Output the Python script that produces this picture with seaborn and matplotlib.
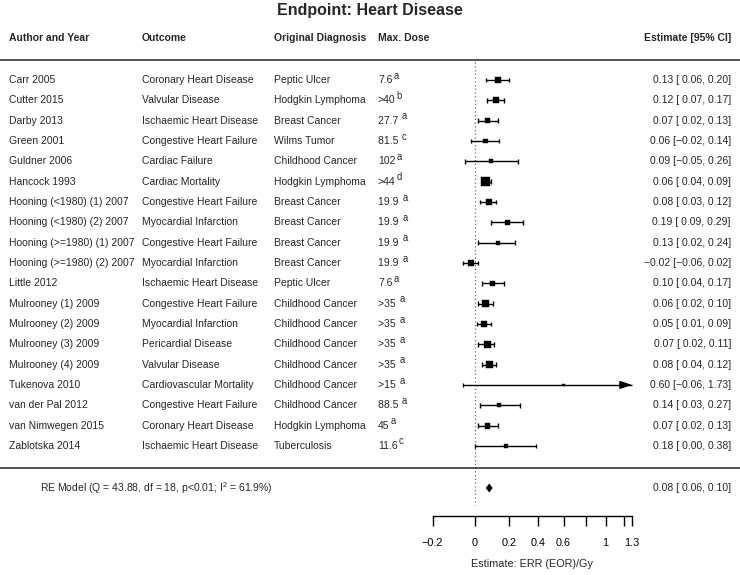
import numpy as np
import pandas as pd
import matplotlib
matplotlib.use("Agg")
import matplotlib.pyplot as plt
import seaborn as sns

# Study data
authors = ["Carr 2005", "Cutter 2015", "Darby 2013", "Green 2001", "Guldner 2006",
           "Hancock 1993", "Hooning (<1980) (1) 2007", "Hooning (<1980) (2) 2007",
           "Hooning (>=1980) (1) 2007", "Hooning (>=1980) (2) 2007", "Little 2012",
           "Mulrooney (1) 2009", "Mulrooney (2) 2009", "Mulrooney (3) 2009",
           "Mulrooney (4) 2009", "Tukenova 2010", "van der Pal 2012",
           "van Nimwegen 2015", "Zablotska 2014"]
outcomes = ["Coronary Heart Disease", "Valvular Disease", "Ischaemic Heart Disease",
            "Congestive Heart Failure", "Cardiac Failure", "Cardiac Mortality",
            "Congestive Heart Failure", "Myocardial Infarction", "Congestive Heart Failure",
            "Myocardial Infarction", "Ischaemic Heart Disease", "Congestive Heart Failure",
            "Myocardial Infarction", "Pericardial Disease", "Valvular Disease",
            "Cardiovascular Mortality", "Congestive Heart Failure", "Coronary Heart Disease",
            "Ischaemic Heart Disease"]
diagnoses = ["Peptic Ulcer", "Hodgkin Lymphoma", "Breast Cancer", "Wilms Tumor",
             "Childhood Cancer", "Hodgkin Lymphoma", "Breast Cancer", "Breast Cancer",
             "Breast Cancer", "Breast Cancer", "Peptic Ulcer", "Childhood Cancer",
             "Childhood Cancer", "Childhood Cancer", "Childhood Cancer", "Childhood Cancer",
             "Childhood Cancer", "Hodgkin Lymphoma", "Tuberculosis"]
doses = ["7.6", ">40", "27.7 ", "81.5 ", "102", ">44", "19.9 ", "19.9 ", "19.9 ", "19.9 ",
         "7.6", ">35 ", ">35 ", ">35 ", ">35 ", ">15 ", "88.5 ", "45", "11.6"]
dose_notes = ["a", "b", "a", "c", "a", "d", "a", "a", "a", "a",
              "a", "a", "a", "a", "a", "a", "a", "a", "c"]
est = [0.13, 0.12, 0.07, 0.06, 0.09, 0.06, 0.08, 0.19, 0.13, -0.02,
       0.10, 0.06, 0.05, 0.07, 0.08, 0.60, 0.14, 0.07, 0.18]
ci_lo = [0.06, 0.07, 0.02, -0.02, -0.05, 0.04, 0.03, 0.09, 0.02, -0.06,
         0.04, 0.02, 0.01, 0.02, 0.04, -0.06, 0.03, 0.02, 0.00]
ci_hi = [0.20, 0.17, 0.13, 0.14, 0.26, 0.09, 0.12, 0.29, 0.24, 0.02,
         0.17, 0.10, 0.09, 0.11, 0.12, 1.73, 0.27, 0.13, 0.38]
weights = [5.3, 6.0, 5.2, 4.4, 2.6, 9.6, 6.5, 3.6, 3.2, 7.0,
           4.7, 7.0, 7.0, 7.2, 7.6, 0.4, 3.0, 5.8, 2.5]

pooled_est, pooled_lo, pooled_hi = 0.08, 0.06, 0.10
re_label = r"RE Model (Q = 43.88, df = 18, p<0.01; I$^{\mathrm{2}}$ = 61.9%)"

tick_vals = [-0.2, 0, 0.2, 0.4, 0.6, 0.8, 1, 1.2, 1.3]
tick_labels = ["\u22120.2", "0", "0.2", "0.4", "0.6", "", "1", "", "1.3"]

df = pd.DataFrame({"author": authors, "outcome": outcomes, "diagnosis": diagnoses,
                   "dose": doses, "note": dose_notes, "est": est,
                   "lo": ci_lo, "hi": ci_hi, "w": weights})
df["row"] = np.arange(len(df))


def num(v, pad=False):
    s = f"{abs(v):.2f}"
    if v < 0:
        return "\u2212" + s
    return (" " + s) if pad else s


df["label"] = [f"{num(e)} [{num(l, True)}, {num(h)}]" for e, l, h in zip(df.est, df.lo, df.hi)]

sns.set_theme(style="white")
plt.rcParams["font.family"] = ["Liberation Sans", "DejaVu Sans"]
plt.rcParams["mathtext.fontset"] = "custom"
plt.rcParams["mathtext.rm"] = "Liberation Sans"
plt.rcParams["mathtext.it"] = "Liberation Sans:italic"
plt.rcParams["mathtext.bf"] = "Liberation Sans:bold"

W, H = 740, 575
fig = plt.figure(figsize=(W / 100, H / 100), dpi=100)
ax_bottom = 516
ax = fig.add_axes([0, (H - ax_bottom) / H, 1, ax_bottom / H])

with np.errstate(invalid="ignore"):
    ax.set_xscale("function", functions=(np.log1p, np.expm1))
zero_px, unit_px = 474.7, 189.0
ax.set_xlim(np.expm1(-zero_px / unit_px), np.expm1((W - zero_px) / unit_px))
row0_px, row_px = 80.0, 20.33
ax.set_ylim((ax_bottom - row0_px) / row_px, -row0_px / row_px)


def ypx(p):
    return (p - row0_px) / row_px


fs = 7.45
xmax = max(tick_vals)

# zero reference line
ax.vlines(0, ypx(62), ypx(505), colors="#666666", linestyles=(0, (1, 2)), lw=0.9)

# separators
for yy in (ypx(60), ypx(468)):
    ax.axhline(yy, color="#444444", lw=1.3)

# confidence intervals
cap = 0.11
lw = 1.0
for r in df.itertuples():
    hi = min(r.hi, xmax)
    ax.hlines(r.row, r.lo, hi, colors="black", lw=lw)
    ax.vlines(r.lo, r.row - cap, r.row + cap, colors="black", lw=lw)
    if r.hi > xmax:
        ax.annotate("", xy=(xmax, r.row), xytext=(np.expm1(np.log1p(xmax) - 0.05), r.row),
                    arrowprops=dict(arrowstyle="-|>,head_length=0.6,head_width=0.2",
                                    color="black", lw=lw, shrinkA=0, shrinkB=0))
    else:
        ax.vlines(r.hi, r.row - cap, r.row + cap, colors="black", lw=lw)

# squares sized by weight
wmin, wmax = min(weights), max(weights)
side_px = 2.2 + (df.w - wmin) / (wmax - wmin) * 6.3
df["area"] = (side_px * 0.72) ** 2
sns.scatterplot(data=df, x="est", y="row", size="area", sizes=(df.area.min(), df.area.max()),
                size_norm=(df.area.min(), df.area.max()), marker="s", color="black",
                edgecolor="black", linewidth=0.3, legend=False, ax=ax, zorder=3)

# pooled diamond
ry = ypx(488)
ax.fill([pooled_lo, pooled_est, pooled_hi, pooled_est], [ry, ry - 0.22, ry, ry + 0.22],
        color="black", lw=0)

# text columns
blend = matplotlib.transforms.blended_transform_factory(ax.transAxes, ax.transData)
cols = [(9, "Author and Year", "author"), (142, "Outcome", "outcome"),
        (274, "Original Diagnosis", "diagnosis")]
hy = ypx(38)
for x, head, key in cols:
    ax.text(x / W, hy, head, transform=blend, fontsize=fs, fontweight="bold", va="center")
    for r, t in zip(df.row, df[key]):
        ax.text(x / W, r, t, transform=blend, fontsize=fs, va="center")
ax.text(378 / W, hy, "Max. Dose", transform=blend, fontsize=fs, fontweight="bold", va="center")
for r, d, n in zip(df.row, df.dose, df.note):
    base = ax.text(378 / W, r, d, transform=blend, fontsize=fs, va="center")
    ax.annotate(n, xy=(1, 0.5), xycoords=base, xytext=(0.6, 3.2), textcoords="offset points",
                fontsize=fs * 0.92, va="center", ha="left")
ax.text(731 / W, hy, "Estimate [95% CI]", transform=blend, fontsize=fs, fontweight="bold",
        va="center", ha="right")
for r, t in zip(df.row, df.label):
    ax.text(731 / W, r, t, transform=blend, fontsize=fs, va="center", ha="right")

ax.text(40 / W, ry, re_label, transform=blend, fontsize=fs, va="center")
ax.text(731 / W, ry, f"{num(pooled_est)} [{num(pooled_lo, True)}, {num(pooled_hi)}]",
        transform=blend, fontsize=fs, va="center", ha="right")

ax.text(0.5, ypx(10), "Endpoint: Heart Disease", transform=blend, fontsize=11.5,
        fontweight="bold", ha="center", va="center")

# x axis
for s in ("top", "left", "right"):
    ax.spines[s].set_visible(False)
ax.spines["bottom"].set_bounds(min(tick_vals), max(tick_vals))
ax.spines["bottom"].set_color("black")
ax.spines["bottom"].set_linewidth(1.0)
ax.set_xticks(tick_vals)
ax.set_xticklabels(tick_labels)
ax.xaxis.set_minor_locator(matplotlib.ticker.NullLocator())
ax.tick_params(axis="x", which="major", bottom=True, direction="out", length=7.2, width=1.0,
               color="black", pad=9, labelsize=7.8, labelcolor="black")
ax.set_yticks([])
ax.set_ylabel("")
ax.set_xlabel("")
mid = np.expm1((np.log1p(min(tick_vals)) + np.log1p(max(tick_vals))) / 2)
ax.annotate("Estimate: ERR (EOR)/Gy", xy=(mid, -(564 - ax_bottom) / ax_bottom),
            xycoords=("data", "axes fraction"), fontsize=7.8, ha="center", va="center",
            annotation_clip=False)

fig.savefig("out.png", dpi=100)
